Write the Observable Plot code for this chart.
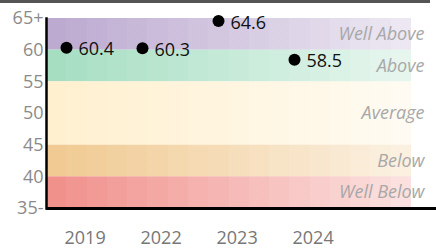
<!DOCTYPE html>
<html>
<head>
<meta charset="utf-8">
<script src="https://cdn.jsdelivr.net/npm/d3@7"></script>
<script src="https://cdn.jsdelivr.net/npm/@observablehq/plot@0.6"></script>
<style>
  html, body { margin: 0; padding: 0; background: #fff; }
  #topbar { width: 430px; height: 3px; background: #555; }
  #chart svg { display: block; }
</style>
</head>
<body>
<div id="topbar"></div>
<div id="chart"></div>
<script>
// Data
const years = ["2019", "2022", "2023", "2024"];
const values = [60.4, 60.3, 64.6, 58.5];

const bandLabels = ["Well Above", "Above", "Average", "Below", "Well Below"];
const bandLow = [60, 55, 45, 40, 35];
const bandHigh = [65, 60, 55, 45, 40];

const yTicks = [35, 40, 45, 50, 55, 60, 65];
const yTickLabels = ["35-", "40", "45", "50", "55", "60", "65+"];

// Styles
const bandColors = ["#bcaad0", "#a6dec2", "#fff0cf", "#f0ca92", "#f0918c"];
const bandIds = ["g-wa", "g-a", "g-av", "g-b", "g-wb"];

const points = years.map((y, i) => ({year: y, value: values[i]}));
const bands = bandLabels.map((l, i) => ({label: l, low: bandLow[i], high: bandHigh[i], mid: (bandLow[i] + bandHigh[i]) / 2, id: bandIds[i]}));

const plot = Plot.plot({
  width: 436,
  height: 247,
  marginTop: 15,
  marginBottom: 42,
  marginLeft: 46,
  marginRight: 0,
  style: {fontFamily: "'Open Sans', sans-serif", fontSize: "18px", background: "#fff"},
  x: {type: "point", domain: years, padding: 0, insetLeft: 19, insetRight: 142},
  y: {domain: [35, 65]},
  marks: [
    ...bands.map(b => Plot.rect([b], {y1: "low", y2: "high", fill: `url(#${b.id})`})),
    Plot.text(bands, {y: "mid", text: "label", frameAnchor: "right", textAnchor: "end", dx: -12, fontStyle: "italic", fill: "#a8a8a8", fontSize: 18}),
    Plot.axisY({ticks: yTicks, tickSize: 0, tickPadding: 3, tickFormat: d => yTickLabels[yTicks.indexOf(d)], color: "#8a8a8a", fontSize: 18, label: null}),
    Plot.axisX({tickSize: 0, tickPadding: 23, textAnchor: "start", dx: -2, color: "#777", fontSize: 18, label: null}),
    Plot.frame({anchor: "left", stroke: "#000", strokeWidth: 2.5}),
    Plot.ruleY([35], {stroke: "#000", strokeWidth: 3}),
    Plot.dot(points, {x: "year", y: "value", r: 6, fill: "#000"}),
    Plot.text(points, {x: "year", y: "value", text: d => d.value.toFixed(1), textAnchor: "start", dx: 12, dy: 2, fill: "#111", fontSize: 18})
  ]
});

// stepped horizontal fade gradients for bands
const ns = "http://www.w3.org/2000/svg";
const defs = document.createElementNS(ns, "defs");
const nSteps = 18, end = 0.936;
bandIds.forEach((id, k) => {
  const g = document.createElementNS(ns, "linearGradient");
  g.setAttribute("id", id);
  g.setAttribute("x1", "0"); g.setAttribute("x2", "1");
  g.setAttribute("y1", "0"); g.setAttribute("y2", "0");
  const add = (off, op) => {
    const s = document.createElementNS(ns, "stop");
    s.setAttribute("offset", off);
    s.setAttribute("stop-color", bandColors[k]);
    s.setAttribute("stop-opacity", op);
    g.appendChild(s);
  };
  for (let i = 0; i < nSteps; i++) {
    const op = 1 - 0.72 * i / (nSteps - 1);
    add(end * i / nSteps, op);
    add(end * (i + 1) / nSteps, op);
  }
  add(end, 0);
  add(1, 0);
  defs.appendChild(g);
});
plot.insertBefore(defs, plot.firstChild);

document.getElementById("chart").appendChild(plot);
</script>
</body>
</html>
